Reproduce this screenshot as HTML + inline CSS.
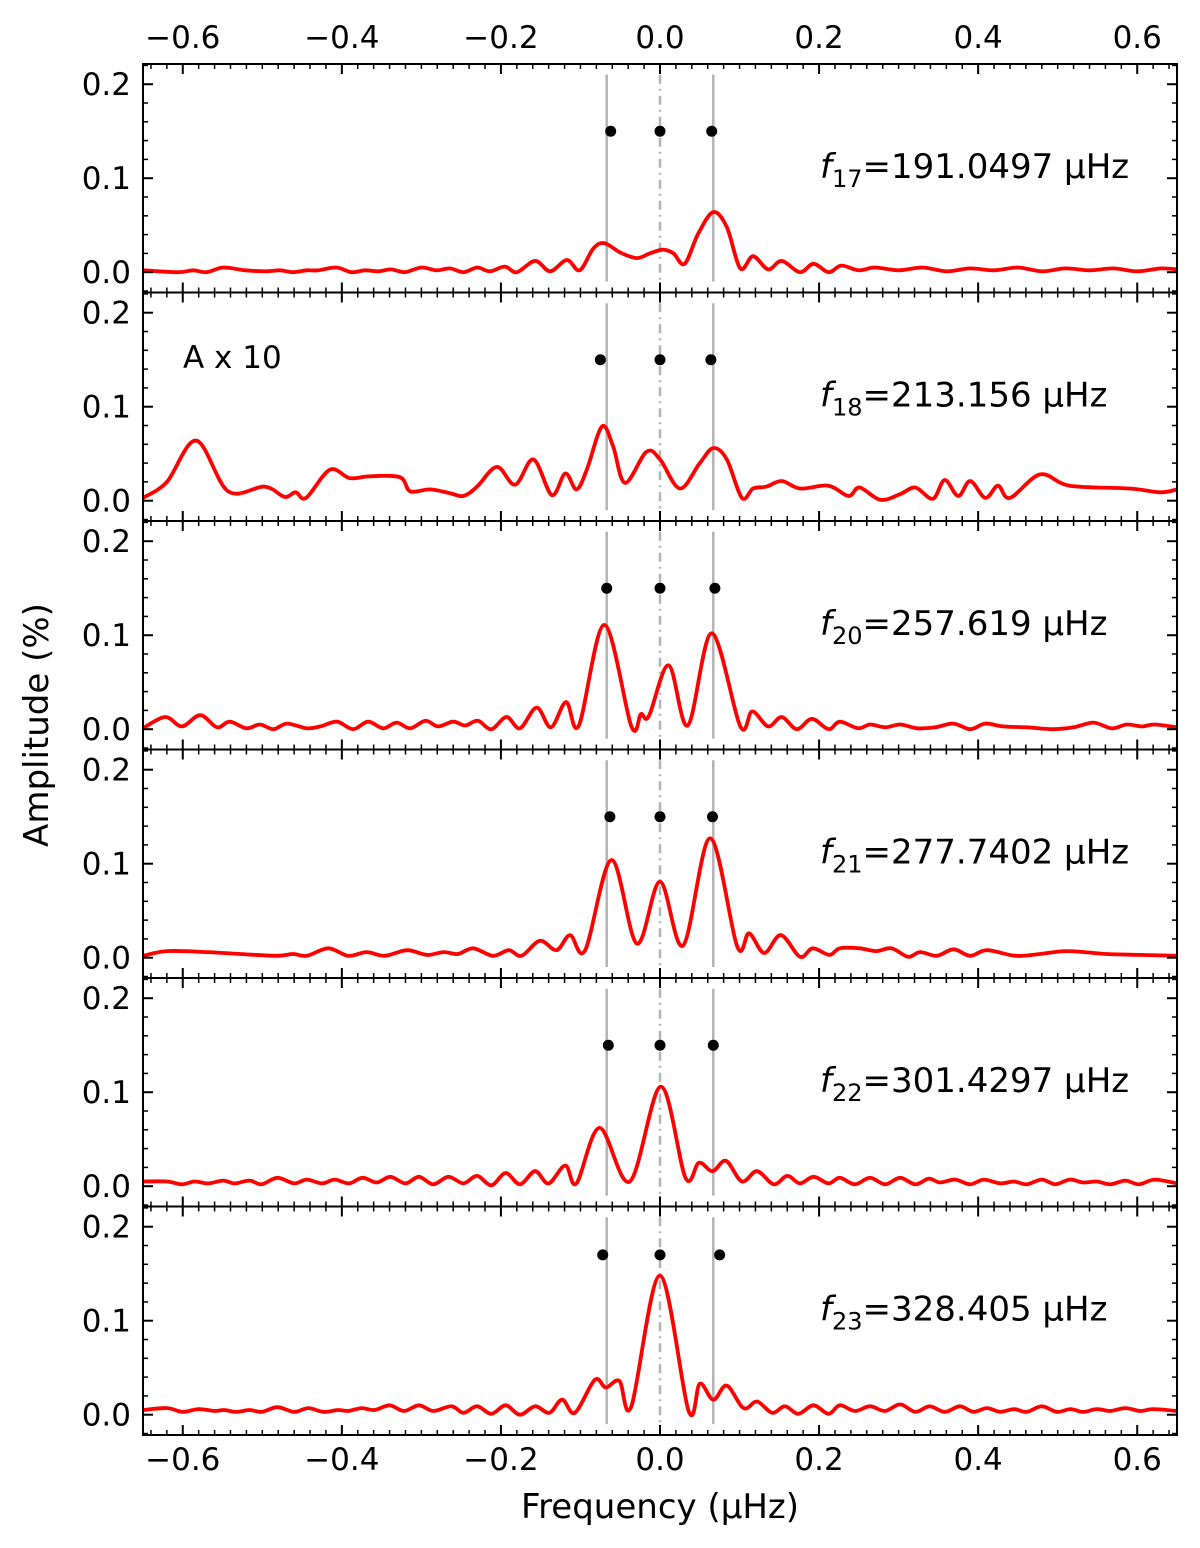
<!DOCTYPE html>
<html><head><meta charset="utf-8"><style>
html,body{margin:0;padding:0;background:#fff;}
svg{display:block;font-family:"DejaVu Sans","Liberation Sans",sans-serif;}
</style></head><body>
<svg id="chart" width="1200" height="1548" viewBox="0 0 1200 1548" xmlns="http://www.w3.org/2000/svg">
<text x="0" y="0" transform="translate(48,725) rotate(-90)" font-size="34" text-anchor="middle">Amplitude (%)</text>
<text x="660" y="1518" font-size="34" text-anchor="middle">Frequency (μHz)</text>
</svg>
<script>
const labels = ["17","18","20","21","22","23"];
const labelValues = ["191.0497","213.156","257.619","277.7402","301.4297","328.405"];
const dotFreqs = [[-0.062,0,0.065],[-0.075,0,0.064],[-0.067,0,0.069],[-0.063,0,0.066],[-0.065,0,0.067],[-0.072,0,0.075]];
const dotAmps = [0.15,0.15,0.15,0.15,0.15,0.17];
const xTicks = [-0.6,-0.4,-0.2,0.0,0.2,0.4,0.6];
const yTicks = [0.0,0.1,0.2];

const freq1 = [-0.65,-0.606,-0.587,-0.57,-0.549,-0.521,-0.495,-0.478,-0.461,-0.444,-0.43,-0.407,-0.388,-0.371,-0.354,-0.338,-0.321,-0.3,-0.281,-0.264,-0.247,-0.23,-0.214,-0.195,-0.18,-0.157,-0.138,-0.117,-0.101,-0.084,-0.07,-0.05,-0.029,-0.013,0.004,0.017,0.031,0.048,0.067,0.084,0.101,0.117,0.136,0.153,0.176,0.193,0.212,0.228,0.25,0.27,0.3,0.33,0.36,0.39,0.42,0.45,0.48,0.51,0.54,0.57,0.6,0.63,0.65];
const amp1 = [0.002,0.0,0.002,0.0,0.005,0.002,0.001,0.002,0.0,0.002,0.002,0.005,0.0,0.002,0.001,0.003,0.0,0.005,0.002,0.004,0.0,0.005,0.001,0.006,0.0,0.012,0.001,0.013,0.002,0.025,0.031,0.021,0.015,0.02,0.024,0.02,0.009,0.041,0.064,0.048,0.004,0.017,0.003,0.012,0.0,0.009,0.0,0.007,0.002,0.005,0.002,0.005,0.001,0.004,0.002,0.005,0.001,0.004,0.002,0.004,0.001,0.004,0.003];

const freq2 = [-0.65,-0.62,-0.583,-0.543,-0.497,-0.472,-0.458,-0.445,-0.415,-0.39,-0.365,-0.327,-0.314,-0.289,-0.264,-0.247,-0.23,-0.205,-0.182,-0.159,-0.136,-0.119,-0.105,-0.092,-0.073,-0.059,-0.044,-0.017,0.0,0.025,0.05,0.067,0.084,0.103,0.117,0.134,0.153,0.176,0.212,0.237,0.251,0.277,0.302,0.321,0.343,0.358,0.375,0.39,0.409,0.425,0.44,0.478,0.515,0.59,0.629,0.65];
const amp2 = [0.003,0.02,0.064,0.01,0.015,0.004,0.009,0.003,0.033,0.024,0.026,0.025,0.01,0.012,0.008,0.005,0.015,0.036,0.017,0.044,0.006,0.029,0.012,0.033,0.079,0.058,0.019,0.052,0.044,0.013,0.04,0.056,0.044,0.003,0.013,0.015,0.021,0.013,0.016,0.005,0.014,0.001,0.007,0.014,0.002,0.022,0.005,0.021,0.003,0.016,0.003,0.028,0.016,0.013,0.009,0.012];

const freq3 = [-0.65,-0.622,-0.601,-0.578,-0.557,-0.541,-0.52,-0.503,-0.486,-0.469,-0.444,-0.427,-0.406,-0.386,-0.367,-0.348,-0.331,-0.314,-0.295,-0.279,-0.26,-0.245,-0.229,-0.212,-0.193,-0.176,-0.155,-0.137,-0.118,-0.102,-0.07,-0.036,-0.024,-0.014,0.011,0.035,0.065,0.101,0.116,0.136,0.153,0.172,0.191,0.212,0.226,0.249,0.264,0.283,0.302,0.323,0.346,0.369,0.39,0.409,0.431,0.461,0.494,0.52,0.545,0.568,0.587,0.606,0.622,0.65];
const amp3 = [0.001,0.013,0.003,0.015,0.002,0.008,0.001,0.005,0.0,0.006,0.001,0.003,0.008,0.0,0.008,0.001,0.007,0.001,0.009,0.003,0.008,0.004,0.009,0.0,0.013,0.001,0.023,0.002,0.029,0.004,0.111,0.003,0.016,0.014,0.068,0.004,0.102,0.003,0.019,0.003,0.013,0.0,0.011,0.0,0.008,0.001,0.005,0.002,0.005,0.001,0.002,0.006,0.0,0.006,0.003,0.002,0.0,0.002,0.007,0.001,0.005,0.003,0.005,0.002];

const freq4 = [-0.65,-0.62,-0.57,-0.528,-0.482,-0.461,-0.444,-0.417,-0.392,-0.369,-0.346,-0.318,-0.293,-0.272,-0.254,-0.235,-0.21,-0.19,-0.174,-0.151,-0.13,-0.113,-0.094,-0.061,-0.029,0.0,0.029,0.063,0.097,0.112,0.131,0.152,0.176,0.192,0.213,0.226,0.251,0.272,0.291,0.312,0.327,0.348,0.369,0.39,0.411,0.447,0.478,0.512,0.562,0.604,0.65];
const amp4 = [0.002,0.007,0.006,0.004,0.002,0.004,0.002,0.01,0.002,0.006,0.002,0.008,0.003,0.006,0.004,0.01,0.002,0.008,0.002,0.018,0.008,0.024,0.008,0.104,0.015,0.081,0.013,0.127,0.012,0.026,0.005,0.024,0.001,0.01,0.003,0.01,0.01,0.007,0.01,0.001,0.006,0.002,0.009,0.002,0.008,0.002,0.004,0.007,0.004,0.003,0.002];

const freq5 = [-0.65,-0.62,-0.601,-0.585,-0.568,-0.549,-0.535,-0.516,-0.501,-0.481,-0.46,-0.444,-0.425,-0.409,-0.391,-0.374,-0.356,-0.339,-0.32,-0.303,-0.285,-0.266,-0.247,-0.23,-0.212,-0.194,-0.176,-0.157,-0.14,-0.119,-0.105,-0.076,-0.038,0.001,0.032,0.049,0.066,0.083,0.103,0.122,0.143,0.16,0.176,0.193,0.212,0.226,0.245,0.264,0.283,0.302,0.321,0.338,0.352,0.371,0.39,0.407,0.428,0.445,0.461,0.48,0.497,0.515,0.532,0.549,0.566,0.585,0.602,0.622,0.65];
const amp5 = [0.005,0.005,0.002,0.005,0.003,0.006,0.003,0.006,0.002,0.009,0.003,0.007,0.003,0.007,0.003,0.009,0.004,0.01,0.003,0.01,0.002,0.01,0.003,0.011,0.001,0.014,0.002,0.016,0.003,0.022,0.003,0.062,0.005,0.106,0.009,0.025,0.016,0.027,0.005,0.016,0.002,0.011,0.003,0.01,0.003,0.009,0.002,0.009,0.002,0.009,0.002,0.008,0.004,0.007,0.002,0.007,0.003,0.005,0.002,0.007,0.002,0.007,0.004,0.005,0.002,0.006,0.002,0.007,0.003];

const freq6 = [-0.65,-0.62,-0.6,-0.58,-0.56,-0.548,-0.533,-0.516,-0.501,-0.481,-0.46,-0.442,-0.423,-0.405,-0.392,-0.375,-0.359,-0.34,-0.322,-0.303,-0.285,-0.262,-0.247,-0.23,-0.212,-0.194,-0.176,-0.157,-0.139,-0.123,-0.107,-0.082,-0.068,-0.051,-0.036,0.0,0.036,0.05,0.067,0.084,0.105,0.122,0.141,0.157,0.174,0.193,0.212,0.226,0.245,0.264,0.283,0.302,0.321,0.339,0.358,0.377,0.394,0.411,0.428,0.445,0.461,0.48,0.499,0.516,0.532,0.549,0.566,0.585,0.604,0.62,0.65];
const amp6 = [0.005,0.007,0.003,0.006,0.004,0.005,0.003,0.005,0.003,0.008,0.003,0.007,0.003,0.005,0.004,0.007,0.005,0.01,0.004,0.01,0.004,0.009,0.002,0.009,0.001,0.01,0.0,0.009,0.002,0.016,0.002,0.037,0.029,0.036,0.009,0.148,0.004,0.033,0.016,0.031,0.007,0.014,0.002,0.009,0.001,0.01,0.001,0.01,0.004,0.009,0.004,0.011,0.003,0.009,0.003,0.009,0.003,0.007,0.003,0.006,0.003,0.009,0.003,0.006,0.003,0.006,0.004,0.007,0.004,0.006,0.004];

const freqs = [freq1,freq2,freq3,freq4,freq5,freq6];
const amps = [amp1,amp2,amp3,amp4,amp5,amp6];

const NS = "http://www.w3.org/2000/svg";
const svg = document.getElementById('chart');
const X0 = 143, X1 = 1177, XMIN = -0.65, XMAX = 0.65;
const TOP = 64, PH = 228.5, YMAX = 0.2215, YPX = 940;
const xs = f => X0 + (f - XMIN) / (XMAX - XMIN) * (X1 - X0);
const ys = (k, a) => TOP + k * PH + (YMAX - a) * YPX;
function mk(tag, attrs, parent) {
  const e = document.createElementNS(NS, tag);
  for (const k in attrs) e.setAttribute(k, attrs[k]);
  (parent || svg).appendChild(e);
  return e;
}
function smoothPath(px, py) {
  let d = 'M' + px[0].toFixed(1) + ',' + py[0].toFixed(1);
  for (let i = 0; i < px.length - 1; i++) {
    const i0 = Math.max(0, i - 1), i3 = Math.min(px.length - 1, i + 2);
    const c1x = px[i] + (px[i + 1] - px[i0]) / 6, c1y = py[i] + (py[i + 1] - py[i0]) / 6;
    const c2x = px[i + 1] - (px[i3] - px[i]) / 6, c2y = py[i + 1] - (py[i3] - py[i]) / 6;
    d += ' C' + c1x.toFixed(1) + ',' + c1y.toFixed(1) + ' ' + c2x.toFixed(1) + ',' + c2y.toFixed(1) + ' ' + px[i + 1].toFixed(1) + ',' + py[i + 1].toFixed(1);
  }
  return d;
}
for (let k = 0; k < 6; k++) {
  const g = mk('g', {});
  
  
  const top = TOP + k * PH, bot = top + PH;
  const clipId = 'clip' + k;
  const cp = mk('clipPath', {id: clipId}, g);
  mk('rect', {x: X0, y: top, width: X1 - X0, height: PH}, cp);
  const yA = ys(k, 0.21), yB = ys(k, -0.01);
  [[-0.067, 'none', 'left-reference-line'], [0, '9,5,2,5', 'center-reference-line'], [0.067, 'none', 'right-reference-line']].forEach(r => {
    const l = mk('line', {x1: xs(r[0]), x2: xs(r[0]), y1: yA, y2: yB, stroke: '#b4b4b4', 'stroke-width': 2.5, 'stroke-dasharray': r[1]}, g);
    
    
  });
  const px = freqs[k].map(xs), py = amps[k].map(a => ys(k, a));
  const path = mk('path', {d: smoothPath(px, py), fill: 'none', stroke: '#ff0000', 'stroke-width': 3.8, 'stroke-linejoin': 'round', 'clip-path': 'url(#' + clipId + ')'}, g);
  
  
  dotFreqs[k].forEach(f => {
    const c = mk('circle', {cx: xs(f), cy: ys(k, dotAmps[k]), r: 5.5, fill: '#000'}, g);
    
    
  });
  const fr = mk('rect', {x: X0, y: top, width: X1 - X0, height: PH, fill: 'none', stroke: '#000', 'stroke-width': 2}, g);
  
  
  for (let i = -32; i <= 32; i++) {
    const f = i * 0.02, major = (i % 10 === 0), L = major ? 10 : 5, x = xs(f);
    mk('line', {x1: x, x2: x, y1: top, y2: top + L, stroke: '#000', 'stroke-width': major ? 2 : 1.5}, g);
    mk('line', {x1: x, x2: x, y1: bot, y2: bot - L, stroke: '#000', 'stroke-width': major ? 2 : 1.5}, g);
  }
  for (let i = -1; i <= 11; i++) {
    const a = i * 0.02, y = ys(k, a);
    if (y < top || y > bot) continue;
    const major = (i % 5 === 0), L = major ? 10 : 5;
    mk('line', {x1: X0, x2: X0 + L, y1: y, y2: y, stroke: '#000', 'stroke-width': major ? 2 : 1.5}, g);
    mk('line', {x1: X1, x2: X1 - L, y1: y, y2: y, stroke: '#000', 'stroke-width': major ? 2 : 1.5}, g);
  }
  yTicks.forEach(v => {
    const t = mk('text', {x: 131, y: ys(k, v) + 11, 'font-size': 31, 'text-anchor': 'end'}, g);
    
    
    t.textContent = v.toFixed(1);
  });
  const ann = mk('text', {x: 820, y: ys(k, 0.1) + 0, 'font-size': 34}, g);
  
  
  const fi = mk('tspan', {'font-style': 'italic'}, ann); fi.textContent = 'f';
  const sub = mk('tspan', {'font-size': 24, dy: 9}, ann); sub.textContent = labels[k];
  const rest = mk('tspan', {dy: -9}, ann); rest.textContent = '=' + labelValues[k] + ' μHz';
  if (k === 1) {
    const ax = mk('text', {x: 183, y: 368, 'font-size': 31}, g);
    
    
    ax.textContent = 'A x 10';
  }
}
xTicks.forEach(v => {
  const s = (v < 0 ? '\u2212' : '') + Math.abs(v).toFixed(1);
  const t1 = mk('text', {x: xs(v), y: 48, 'font-size': 31, 'text-anchor': 'middle'});
  
  
  t1.textContent = s;
  const t2 = mk('text', {x: xs(v), y: 1470, 'font-size': 31, 'text-anchor': 'middle'});
  
  
  t2.textContent = s;
});
</script>
</body></html>
